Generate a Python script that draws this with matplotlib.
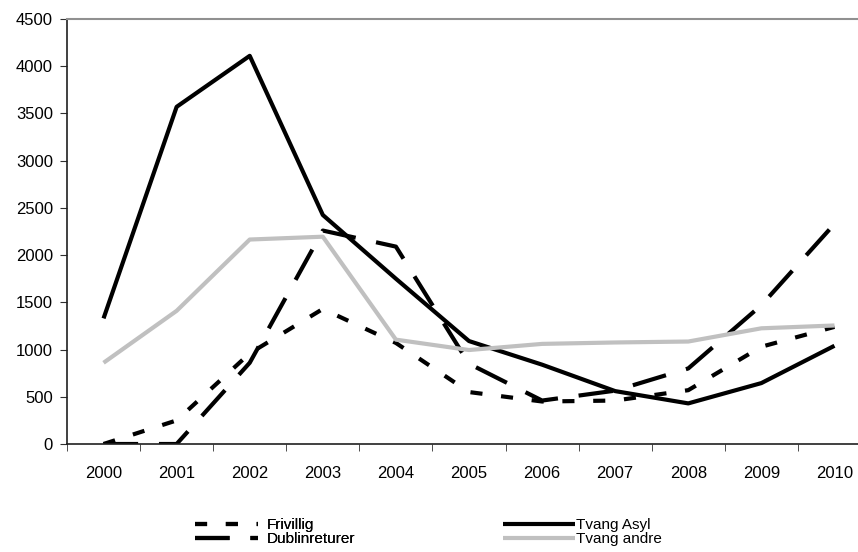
import numpy as np
import matplotlib
matplotlib.use("Agg")
import matplotlib.pyplot as plt

plt.rcParams['font.family'] = ['Liberation Sans', 'DejaVu Sans']

years = ['2000', '2001', '2002', '2003', '2004', '2005', '2006', '2007', '2008', '2009', '2010']
frivillig = [0, 250, 960, 1430, 1070, 550, 450, 460, 570, 1030, 1240]
dublin = [0, 0, 860, 2260, 2090, 850, 460, 565, 800, 1470, 2330]
tvang_asyl = [1330, 3570, 4110, 2425, 1750, 1090, 840, 560, 430, 645, 1040]
tvang_andre = [860, 1410, 2165, 2195, 1105, 995, 1060, 1075, 1085, 1225, 1255]

fig = plt.figure(figsize=(8.58, 5.52), dpi=100)
ax = fig.add_axes([67/858, 1-444/552, 804/858, 425/552])

x = np.arange(len(years))
lw = 3.0
l1, = ax.plot(x, frivillig, color='black', lw=lw, dashes=(2.9, 4.5), dash_capstyle='butt', label='Frivillig')
l2, = ax.plot(x, dublin, color='black', lw=lw, dashes=(8.3, 5.0), dash_capstyle='butt', label='Dublinreturer')
l3, = ax.plot(x, tvang_asyl, color='black', lw=lw, solid_capstyle='butt', label='Tvang Asyl')
l4, = ax.plot(x, tvang_andre, color='#c0c0c0', lw=lw, solid_capstyle='butt', label='Tvang andre')

ax.set_xlim(-0.5, 10.5)
ax.set_ylim(0, 4500)
ax.set_yticks(np.arange(0, 4501, 500))
ax.set_xticks(x)
ax.set_xticklabels(years)
ax.set_xticks(np.arange(-0.5, 10.6, 1), minor=True)
ax.tick_params(axis='x', which='major', length=0, pad=16, labelsize=12)
ax.tick_params(axis='x', which='minor', length=5, direction='out', color='#303030')
ax.tick_params(axis='y', length=5, direction='out', color='#303030', labelsize=12, pad=5)
for side in ['left', 'bottom']:
    ax.spines[side].set_color('#202020')
    ax.spines[side].set_linewidth(1.2)
for side in ['top', 'right']:
    ax.spines[side].set_color('#909090')
    ax.spines[side].set_linewidth(1.5)

leg1 = fig.legend([l1, l2], ['Frivillig', 'Dublinreturer'], loc='upper left',
                  bbox_to_anchor=(195/858, 1-518/552), frameon=False, fontsize=11,
                  handlelength=4.1, handletextpad=0.6, borderpad=0, borderaxespad=0,
                  labelspacing=0.0)
fig.add_artist(leg1)
leg2 = fig.legend([l3, l4], ['Tvang Asyl', 'Tvang andre'], loc='upper left',
                  bbox_to_anchor=(503/858, 1-518/552), frameon=False, fontsize=11,
                  handlelength=4.7, handletextpad=0.05, borderpad=0, borderaxespad=0,
                  labelspacing=0.0)

fig.savefig('out.png', dpi=100)
